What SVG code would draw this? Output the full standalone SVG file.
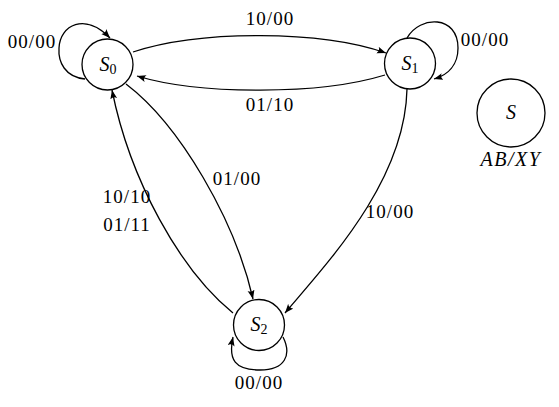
<svg xmlns="http://www.w3.org/2000/svg" width="559" height="407" viewBox="0 0 559 407">
<style>
.st{fill:#fff;stroke:#000;stroke-width:1.3}
.e{fill:none;stroke:#000;stroke-width:1.3;marker-end:url(#ah)}
text{font-family:"Liberation Serif","Times New Roman",serif;fill:#000}
.lbl{font-size:19px;text-anchor:middle;letter-spacing:1px}
.nm{font-size:20px;font-style:italic;text-anchor:middle}
.lg{font-size:20px;font-style:italic;text-anchor:middle;letter-spacing:1.5px}
.sub{font-size:14px;font-style:normal}
</style>
<defs>
<marker id="ah" markerUnits="userSpaceOnUse" markerWidth="10" markerHeight="8" refX="9" refY="3.5" orient="auto">
<path d="M0,0 Q3,3.5 0,7 L9,3.5 Z" fill="#000"/>
</marker>
</defs>
<g id="connectors">
<path class="e" d="M133,52 C200,30 320,30 386,53"/>
<path class="e" d="M385,75 C320,95 200,95 137,76"/>
<path class="e" d="M85,79 C65,77 58,62 59,48 C60,25 85,12 110,38"/>
<path class="e" d="M407,38 C420,15 458,15 458,48 C458,65 448,75 434,79"/>
<path class="e" d="M283,337 C292,355 285,370 260,370 C235,370 228,360 233,337"/>
<path class="e" d="M126,84 C180,125 235,220 253,299"/>
<path class="e" d="M233,313 C180,270 130,180 112,90"/>
<path class="e" d="M407,89 C405,180 330,260 285,313"/>
</g>
<g id="edge-labels">
<text class="lbl" x="270" y="25">10/00</text>
<text class="lbl" x="270" y="111">01/10</text>
<text class="lbl" x="32" y="48">00/00</text>
<text class="lbl" x="485" y="46">00/00</text>
<text class="lbl" x="259" y="389">00/00</text>
<text class="lbl" x="237" y="185">01/00</text>
<text class="lbl" x="127" y="203">10/10</text>
<text class="lbl" x="127" y="231">01/11</text>
<text class="lbl" x="390" y="218">10/00</text>
</g>
<g id="S0">
<circle class="st" cx="107.5" cy="64.5" r="25.5"/>
<text class="nm" x="108" y="71">S<tspan class="sub" dy="3">0</tspan></text>
</g>
<g id="S1">
<circle class="st" cx="410" cy="63.5" r="25.5"/>
<text class="nm" x="410" y="70">S<tspan class="sub" dy="3">1</tspan></text>
</g>
<g id="S2">
<circle class="st" cx="259" cy="325" r="25.5"/>
<text class="nm" x="259" y="331">S<tspan class="sub" dy="3">2</tspan></text>
</g>
<g id="legend">
<circle class="st" cx="511" cy="113" r="34"/>
<text class="nm" x="511" y="119">S</text>
<text class="lg" x="511" y="166">AB/XY</text>
</g>
</svg>
